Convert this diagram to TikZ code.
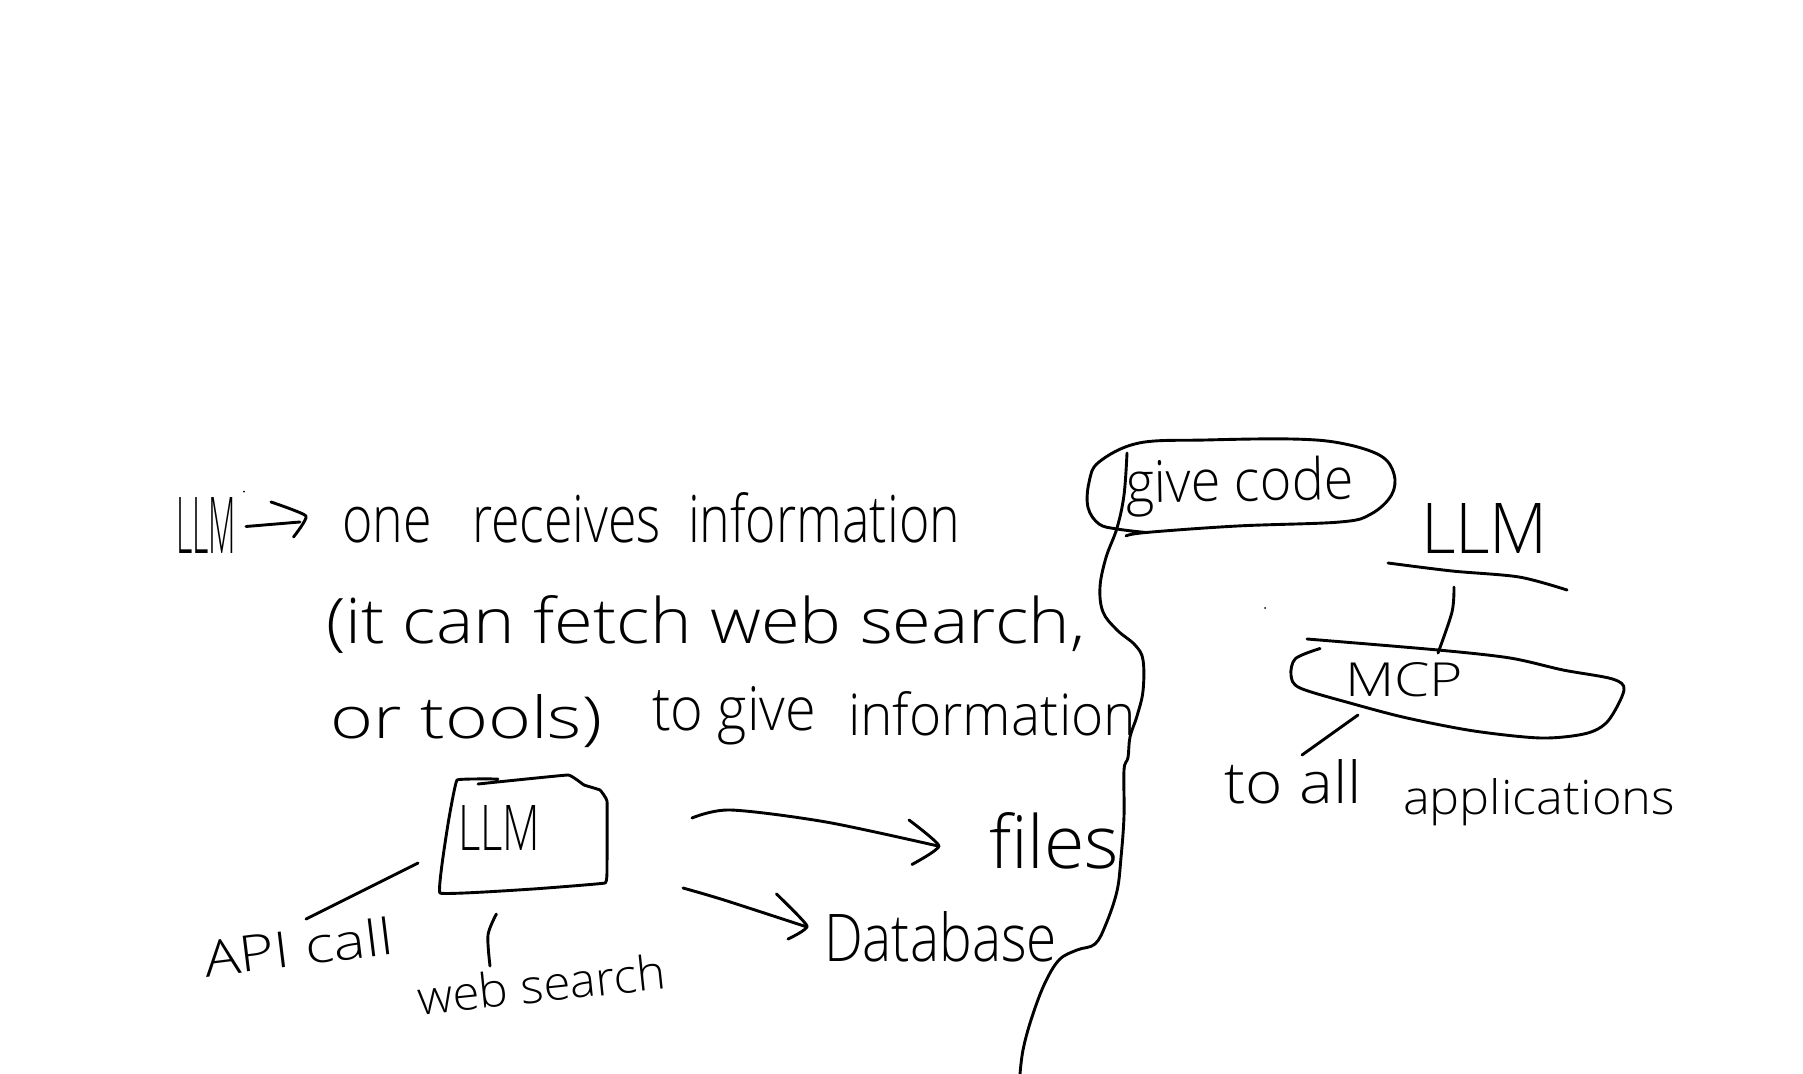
\documentclass[tikz,border=0pt]{standalone}
\usepackage{graphicx}
\usepackage{fontspec}
\setmainfont{Open Sans Light}
\newlength\hwW
\newlength\hwH
% name, x, y (baseline left), width, height, rotation, text
\newcommand\hw[7]{%
  \hwW=#4pt \divide\hwW by 2
  \hwH=#5pt \divide\hwH by 2
  \node[handtext,rotate=#6] (#1) at (#2,#3) {\resizebox{\hwW}{\hwH}{#7}};}
\tikzset{
  handtext/.style={anchor=base west,inner sep=0pt,outer sep=0pt,text=black},
  pen/.style={draw=black,line width=1.45pt,line cap=round,line join=round},
}
\begin{document}
\begin{tikzpicture}[x=0.5pt,y=-0.5pt]
\useasboundingbox[fill=white] (0,0) rectangle (1803,1074);

% texts
\hw{titleA}{176}{553}{60}{56}{0}{LLM}
\hw{lineA}{342}{542}{618}{50}{0}{one\ \ \ receives\ \ information}
\hw{lineB}{326}{643}{759}{48}{0}{(it can fetch web search,}
\hw{lineCa}{330}{738}{272}{44}{0}{or tools)}
\hw{lineCb}{652}{730}{164}{44}{0}{to give}
\hw{lineCc}{848}{735}{288}{44}{0}{information}
\hw{boxText}{458}{850}{82}{45}{0}{LLM}
\hw{apiText}{206}{977}{190}{38}{7}{API call}
\hw{webText}{419}{1015}{250}{36}{6}{web search}
\hw{filesText}{989}{868}{130}{56}{0}{files}
\hw{dbText}{824}{961}{233}{50}{0}{Database}
\hw{giveText}{1126}{503}{228}{44}{1}{give code}
\hw{llmText}{1421}{553}{127}{50}{0}{LLM}
\hw{mcpText}{1345}{696}{118}{34}{0}{MCP}
\hw{toallText}{1224}{803}{138}{44}{0}{to all}
\hw{appsText}{1403}{814}{272}{36}{0}{applications}

% top-left arrow
\coordinate (arrA) at (246,526.5);
\coordinate (arrB) at (300,522);
\draw[pen] (arrA) -- (arrB);
\draw[pen] plot[smooth,tension=.3] coordinates {(271,502) (306,516) (293.5,537)};

% box round the lower LLM
\draw[pen] plot[smooth,tension=.12] coordinates {(498,779) (457,780) (448,824) (440,893) (533,889) (605,883) (607,866) (607,801) (600,790) (584,785) (568,775) (478,784)};

% connectors round the box
\coordinate (apiEnd) at (306,919);
\coordinate (apiBox) at (418,863);
\draw[pen] (apiBox) -- (apiEnd);
\draw[pen] plot[smooth,tension=.5] coordinates {(496.4,914) (488,935) (490,966)};

% box to files, box to database
\draw[pen] plot[smooth,tension=.5] coordinates {(692,818) (730.6,810) (826,822) (938,846)};
\draw[pen] plot[smooth,tension=.3] coordinates {(909,820) (939,846) (912,864.5)};
\draw[pen] plot[smooth,tension=.5] coordinates {(683,888) (724,900) (807,927)};
\draw[pen] plot[smooth,tension=.3] coordinates {(776.5,894) (807,926) (788,939)};

% dividing wavy line
\draw[pen] plot[smooth,tension=.6] coordinates {(1127,453) (1124,495) (1117,528) (1106,557.5) (1100,587) (1103,612) (1117,630) (1135,645) (1143,660) (1143,691) (1137,716) (1130,737) (1128,757.5) (1124,770) (1124,816) (1121,857.5) (1117,891) (1106,924) (1095,944) (1077,950) (1059,960) (1044,985) (1031,1020) (1023,1050) (1020,1074)};

% oval round give code
\draw[pen] plot[smooth,tension=.6] coordinates {(1126,536) (1146,532.5) (1237.5,526) (1340,522) (1371,514) (1391.5,495) (1394,474) (1380,455.4) (1340,443) (1291,439) (1206,440) (1139,443) (1099,462) (1089,482.5) (1088,507.5) (1099,524) (1117,529) (1146,532.5)};

% LLM rule and link to MCP
\draw[pen] plot[smooth,tension=.5] coordinates {(1388,563) (1452,571) (1519,577) (1567,590)};
\draw[pen] plot[smooth,tension=.5] coordinates {(1454,587) (1452,612) (1438,653)};

% MCP outline
\draw[pen] plot[smooth,tension=.5] coordinates {(1307,639) (1438,650) (1510,658) (1563,670) (1612.5,679) (1624,690) (1608,721) (1586,733.5) (1541,738) (1474,731) (1407,718) (1353.5,704) (1300,688) (1291,675) (1295.5,658.5) (1320,648.5)};

% MCP to applications
\coordinate (mcpLow) at (1358,715);
\coordinate (allTop) at (1302,755);
\draw[pen] (mcpLow) -- (allTop);

% specks
\fill (1265,608) circle (1);
\fill (244,491.6) circle (1);
\end{tikzpicture}
\end{document}
